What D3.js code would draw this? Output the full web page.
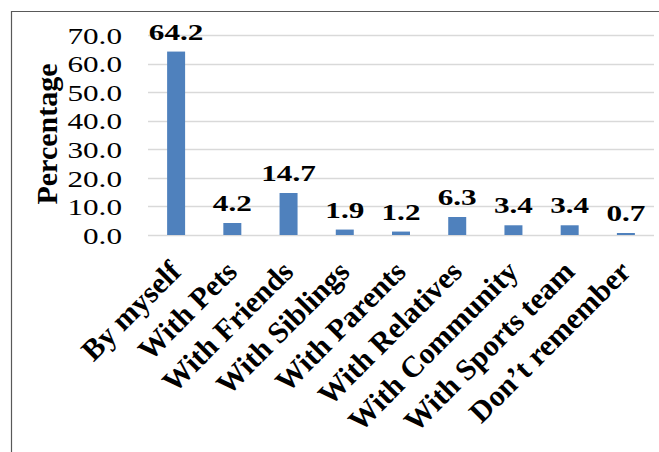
<!DOCTYPE html>
<html>
<head>
<meta charset="utf-8">
<script src="https://cdn.jsdelivr.net/npm/d3@7"></script>
<style>
  html, body { margin: 0; padding: 0; background: #fff; }
  svg { display: block; }
</style>
</head>
<body>
<script>
// Who the respondents were with
const categories = ["By myself", "With Pets", "With Friends", "With Siblings", "With Parents",
                    "With Relatives", "With Community", "With Sports team", "Don\u2019t remember"];
const percentages = [64.2, 4.2, 14.7, 1.9, 1.2, 6.3, 3.4, 3.4, 0.7];
const yTicks = [0, 10, 20, 30, 40, 50, 60, 70];
const yTitle = "Percentage";

const FONT = '"Liberation Serif", "Times New Roman", serif';
const W = 659, H = 452;
const svg = d3.select("body").append("svg").attr("width", W).attr("height", H);

// frame
svg.append("path")
  .attr("d", `M11.5,${H} V11.5 H${W}`)
  .attr("fill", "none").attr("stroke", "#595959").attr("stroke-width", 1.2);

const x = d3.scaleBand().domain(categories).range([148, 654])
  .paddingInner(0.68).paddingOuter(0.34);
const y = d3.scaleLinear().domain([0, 70]).range([235, 35]);

// gridlines
svg.append("g").selectAll("line").data(yTicks).join("line")
  .attr("x1", 148).attr("x2", 654)
  .attr("y1", d => Math.round(y(d)) + 0.5).attr("y2", d => Math.round(y(d)) + 0.5)
  .attr("stroke", "#d9d9d9").attr("stroke-width", 1.3);

// y axis labels
const yAxis = svg.append("g").attr("transform", "translate(122,0)")
  .call(d3.axisLeft(y).tickValues(yTicks).tickSize(0).tickPadding(0).tickFormat(d3.format(".1f")));
yAxis.select(".domain").remove();
yAxis.selectAll("text")
  .attr("x", null).attr("dy", "0.34em")
  .attr("transform", "scale(1.3,1)")
  .style("font-family", FONT)
  .style("font-size", "24px").style("text-anchor", "end").attr("fill", "#000");

// bars
svg.append("g").selectAll("rect").data(percentages).join("rect")
  .attr("x", (d, i) => x(categories[i]))
  .attr("width", x.bandwidth())
  .attr("y", d => y(d))
  .attr("height", d => y(0) - y(d))
  .attr("fill", "#4f81bd");

// value labels
svg.append("g").selectAll("text").data(percentages).join("text")
  .attr("transform", (d, i) => `translate(${x(categories[i]) + x.bandwidth() / 2},${y(d) - 12}) scale(1.3,1)`)
  .attr("text-anchor", "middle")
  .style("font-family", FONT)
  .style("font-size", "24px").style("font-weight", "bold")
  .attr("fill", "#000")
  .text(d => d.toFixed(1));

// category labels
svg.append("g").selectAll("text").data(categories).join("text")
  .attr("transform", d => `translate(${x(d) + x.bandwidth() / 2 - 1},${266}) rotate(-45)`)
  .attr("text-anchor", "end")
  .attr("dy", "0.35em")
  .style("font-family", FONT)
  .style("font-size", "30px").style("font-weight", "bold")
  .attr("fill", "#000")
  .text(d => d);

// y axis title
svg.append("text")
  .attr("transform", "translate(57,134) rotate(-90)")
  .attr("text-anchor", "middle")
  .style("font-family", FONT)
  .style("font-size", "30px").style("font-weight", "bold")
  .attr("fill", "#000")
  .text(yTitle);
</script>
</body>
</html>
